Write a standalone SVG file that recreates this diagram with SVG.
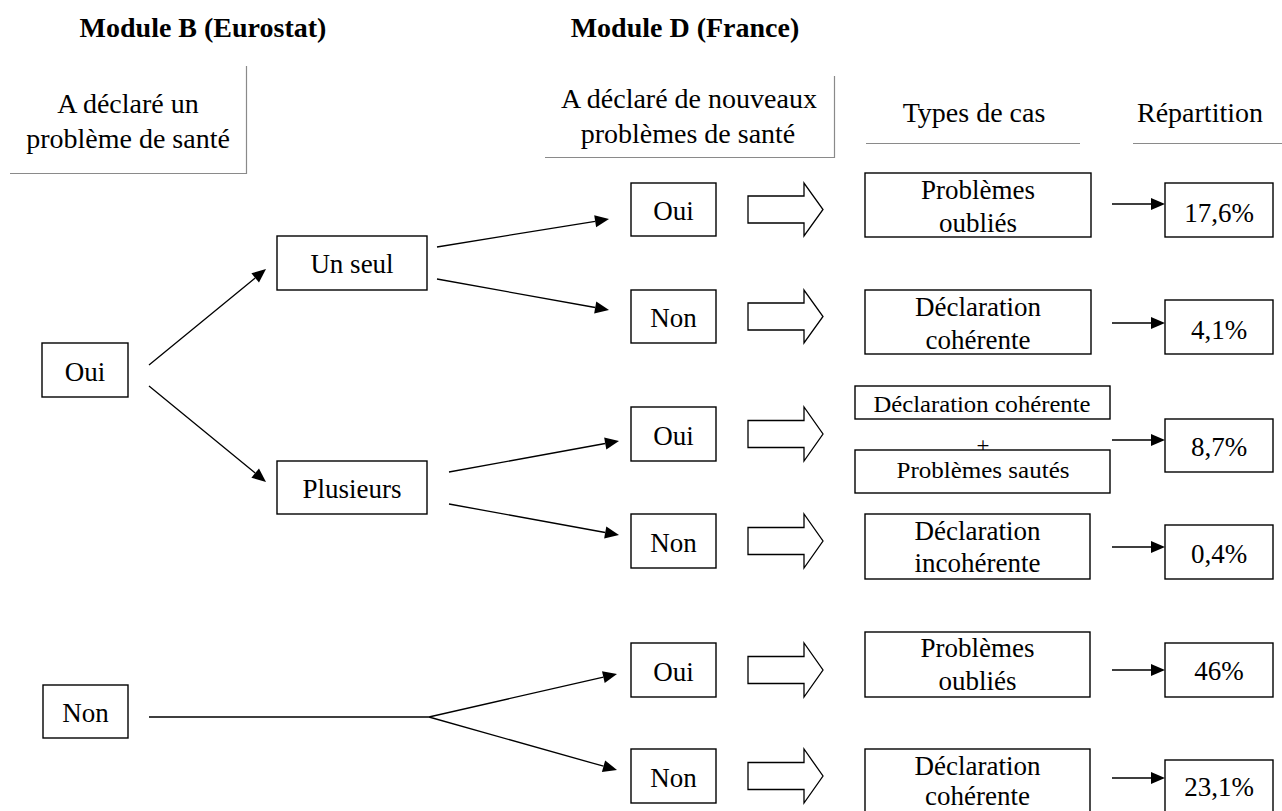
<svg xmlns="http://www.w3.org/2000/svg" width="1282" height="811" viewBox="0 0 1282 811">
<rect width="1282" height="811" fill="#fff"/>
<g id="headers">
<text x="203" y="37" style="font-family:'Liberation Serif','Times New Roman',serif;font-size:28px;font-weight:bold;text-anchor:middle">Module B (Eurostat)</text>
<text x="685" y="37" style="font-family:'Liberation Serif','Times New Roman',serif;font-size:28px;font-weight:bold;text-anchor:middle">Module D (France)</text>
<g id="hdr-b">
<text x="128" y="113" style="font-family:'Liberation Serif','Times New Roman',serif;font-size:28px;text-anchor:middle">A déclaré un</text>
<text x="128" y="148" style="font-family:'Liberation Serif','Times New Roman',serif;font-size:28px;text-anchor:middle">problème de santé</text>
<path d="M246.5,66 V173.5 H10" fill="none" stroke="#8a8a8a" stroke-width="1.2"/>
</g>
<g id="hdr-d">
<text x="689" y="108" style="font-family:'Liberation Serif','Times New Roman',serif;font-size:28px;text-anchor:middle">A déclaré de nouveaux</text>
<text x="688" y="143" style="font-family:'Liberation Serif','Times New Roman',serif;font-size:28px;text-anchor:middle">problèmes de santé</text>
<path d="M834.5,76 V157.5 H545" fill="none" stroke="#8a8a8a" stroke-width="1.2"/>
</g>
<g id="hdr-types">
<text x="974" y="122" style="font-family:'Liberation Serif','Times New Roman',serif;font-size:28px;text-anchor:middle">Types de cas</text>
<path d="M866,143.5 H1080" fill="none" stroke="#8a8a8a" stroke-width="1.2"/>
</g>
<g id="hdr-rep">
<text x="1200" y="122" style="font-family:'Liberation Serif','Times New Roman',serif;font-size:28px;text-anchor:middle">Répartition</text>
<path d="M1133,143.5 H1282" fill="none" stroke="#8a8a8a" stroke-width="1.2"/>
</g>
</g>

<g id="connectors" stroke="#000" stroke-width="1.3" fill="#000">
<path fill="none" d="M149,365 L255.2,277.9 M149,386 L255.2,473.1 M437,247 L595.2,221.3 M437,279 L595.2,307.5 M449,472 L605.2,443.5 M449,504 L605.2,532.5 M149,717 H429 L603.4,677.1 M429,717 L603.5,766.2 M1112,204 H1152 M1112,323 H1152 M1112,440 H1152 M1112,547 H1152 M1112,670 H1152 M1112,778 H1152"/>
<g stroke="none">
<polygon points="266,269 258.98,282.52 251.38,273.24"/>
<polygon points="266,482 251.38,477.76 258.98,468.48"/>
<polygon points="609,219 596.14,227.17 594.22,215.33"/>
<polygon points="609,310 594.16,313.42 596.28,301.62"/>
<polygon points="619,441 606.31,449.41 604.15,437.61"/>
<polygon points="619,535 604.15,538.39 606.31,526.59"/>
<polygon points="617,674 604.69,682.97 602.01,671.27"/>
<polygon points="617,770 601.9,771.98 605.16,760.42"/>
<polygon points="1165,204 1151,198 1151,210"/>
<polygon points="1165,323 1151,317 1151,329"/>
<polygon points="1165,440 1151,434 1151,446"/>
<polygon points="1165,547 1151,541 1151,553"/>
<polygon points="1165,670 1151,664 1151,676"/>
<polygon points="1165,778 1151,772 1151,784"/>
</g>
<g fill="#fff">
<polygon points="748,196 804,196 804,183 823,209.5 804,236 804,223 748,223"/>
<polygon points="748,303 804,303 804,290 823,316.5 804,343 804,330 748,330"/>
<polygon points="748,420.5 804,420.5 804,407 823,434 804,461 804,447.5 748,447.5"/>
<polygon points="748,527.5 804,527.5 804,514 823,541 804,568 804,554.5 748,554.5"/>
<polygon points="748,656.5 804,656.5 804,643 823,670 804,697 804,683.5 748,683.5"/>
<polygon points="748,762.5 804,762.5 804,749 823,776 804,803 804,789.5 748,789.5"/>
</g>
</g>

<g id="n-oui1"><rect x="42" y="343" width="86" height="54" fill="#fff" stroke="#000" stroke-width="1.4"/><text x="85" y="381" style="font-family:'Liberation Serif','Times New Roman',serif;font-size:27px;text-anchor:middle">Oui</text></g>
<g id="n-non1"><rect x="43" y="685" width="85" height="53" fill="#fff" stroke="#000" stroke-width="1.4"/><text x="85.5" y="722" style="font-family:'Liberation Serif','Times New Roman',serif;font-size:27px;text-anchor:middle">Non</text></g>
<g id="n-unseul"><rect x="277" y="236" width="150" height="54" fill="#fff" stroke="#000" stroke-width="1.4"/><text x="352" y="273" style="font-family:'Liberation Serif','Times New Roman',serif;font-size:27px;text-anchor:middle">Un seul</text></g>
<g id="n-plusieurs"><rect x="277" y="461" width="150" height="53" fill="#fff" stroke="#000" stroke-width="1.4"/><text x="352" y="498" style="font-family:'Liberation Serif','Times New Roman',serif;font-size:27px;text-anchor:middle">Plusieurs</text></g>

<g id="n-r1"><rect x="631" y="183" width="85" height="53" fill="#fff" stroke="#000" stroke-width="1.4"/><text x="673.5" y="220" style="font-family:'Liberation Serif','Times New Roman',serif;font-size:27px;text-anchor:middle">Oui</text></g>
<g id="n-r2"><rect x="631" y="290" width="85" height="53" fill="#fff" stroke="#000" stroke-width="1.4"/><text x="673.5" y="327" style="font-family:'Liberation Serif','Times New Roman',serif;font-size:27px;text-anchor:middle">Non</text></g>
<g id="n-r3"><rect x="631" y="407" width="85" height="54" fill="#fff" stroke="#000" stroke-width="1.4"/><text x="673.5" y="445" style="font-family:'Liberation Serif','Times New Roman',serif;font-size:27px;text-anchor:middle">Oui</text></g>
<g id="n-r4"><rect x="631" y="514" width="85" height="54" fill="#fff" stroke="#000" stroke-width="1.4"/><text x="673.5" y="552" style="font-family:'Liberation Serif','Times New Roman',serif;font-size:27px;text-anchor:middle">Non</text></g>
<g id="n-r5"><rect x="631" y="643" width="85" height="54" fill="#fff" stroke="#000" stroke-width="1.4"/><text x="673.5" y="681" style="font-family:'Liberation Serif','Times New Roman',serif;font-size:27px;text-anchor:middle">Oui</text></g>
<g id="n-r6"><rect x="631" y="749" width="85" height="54" fill="#fff" stroke="#000" stroke-width="1.4"/><text x="673.5" y="787" style="font-family:'Liberation Serif','Times New Roman',serif;font-size:27px;text-anchor:middle">Non</text></g>

<g id="t-r1"><rect x="865" y="173" width="226" height="64" fill="#fff" stroke="#000" stroke-width="1.4"/><text x="978" y="199" style="font-family:'Liberation Serif','Times New Roman',serif;font-size:27px;text-anchor:middle">Problèmes</text><text x="978" y="232" style="font-family:'Liberation Serif','Times New Roman',serif;font-size:27px;text-anchor:middle">oubliés</text></g>
<g id="t-r2"><rect x="865" y="290" width="226" height="64" fill="#fff" stroke="#000" stroke-width="1.4"/><text x="978" y="316" style="font-family:'Liberation Serif','Times New Roman',serif;font-size:27px;text-anchor:middle">Déclaration</text><text x="978" y="349" style="font-family:'Liberation Serif','Times New Roman',serif;font-size:27px;text-anchor:middle">cohérente</text></g>
<g id="t-r3">
<text x="983" y="453" style="font-family:'Liberation Serif','Times New Roman',serif;font-size:23px;text-anchor:middle">+</text>
<rect x="855" y="386" width="255" height="33" fill="#fff" stroke="#000" stroke-width="1.4"/><text x="982" y="412" textLength="217" lengthAdjust="spacingAndGlyphs" style="font-family:'Liberation Serif','Times New Roman',serif;font-size:23px;text-anchor:middle">Déclaration cohérente</text>
<rect x="855" y="450" width="255" height="43" fill="#fff" stroke="#000" stroke-width="1.4"/><text x="983" y="478" textLength="173" lengthAdjust="spacingAndGlyphs" style="font-family:'Liberation Serif','Times New Roman',serif;font-size:23px;text-anchor:middle">Problèmes sautés</text>
</g>
<g id="t-r4"><rect x="865" y="514" width="225" height="65" fill="#fff" stroke="#000" stroke-width="1.4"/><text x="977.5" y="540" style="font-family:'Liberation Serif','Times New Roman',serif;font-size:27px;text-anchor:middle">Déclaration</text><text x="977.5" y="572" style="font-family:'Liberation Serif','Times New Roman',serif;font-size:27px;text-anchor:middle">incohérente</text></g>
<g id="t-r5"><rect x="865" y="632" width="225" height="65" fill="#fff" stroke="#000" stroke-width="1.4"/><text x="977.5" y="657" style="font-family:'Liberation Serif','Times New Roman',serif;font-size:27px;text-anchor:middle">Problèmes</text><text x="977.5" y="690" style="font-family:'Liberation Serif','Times New Roman',serif;font-size:27px;text-anchor:middle">oubliés</text></g>
<g id="t-r6"><rect x="865" y="749" width="225" height="70" fill="#fff" stroke="#000" stroke-width="1.4"/><text x="977.5" y="775" style="font-family:'Liberation Serif','Times New Roman',serif;font-size:27px;text-anchor:middle">Déclaration</text><text x="977.5" y="805" style="font-family:'Liberation Serif','Times New Roman',serif;font-size:27px;text-anchor:middle">cohérente</text></g>

<g id="p-r1"><rect x="1165" y="183" width="108" height="54" fill="#fff" stroke="#000" stroke-width="1.4"/><text x="1219" y="222" style="font-family:'Liberation Serif','Times New Roman',serif;font-size:27px;text-anchor:middle">17,6%</text></g>
<g id="p-r2"><rect x="1165" y="300" width="108" height="54" fill="#fff" stroke="#000" stroke-width="1.4"/><text x="1219" y="339" style="font-family:'Liberation Serif','Times New Roman',serif;font-size:27px;text-anchor:middle">4,1%</text></g>
<g id="p-r3"><rect x="1165" y="419" width="108" height="53" fill="#fff" stroke="#000" stroke-width="1.4"/><text x="1219" y="456" style="font-family:'Liberation Serif','Times New Roman',serif;font-size:27px;text-anchor:middle">8,7%</text></g>
<g id="p-r4"><rect x="1165" y="525" width="108" height="54" fill="#fff" stroke="#000" stroke-width="1.4"/><text x="1219" y="563" style="font-family:'Liberation Serif','Times New Roman',serif;font-size:27px;text-anchor:middle">0,4%</text></g>
<g id="p-r5"><rect x="1165" y="643" width="108" height="54" fill="#fff" stroke="#000" stroke-width="1.4"/><text x="1219" y="680" style="font-family:'Liberation Serif','Times New Roman',serif;font-size:27px;text-anchor:middle">46%</text></g>
<g id="p-r6"><rect x="1165" y="760" width="108" height="60" fill="#fff" stroke="#000" stroke-width="1.4"/><text x="1219" y="796" style="font-family:'Liberation Serif','Times New Roman',serif;font-size:27px;text-anchor:middle">23,1%</text></g>
</svg>
